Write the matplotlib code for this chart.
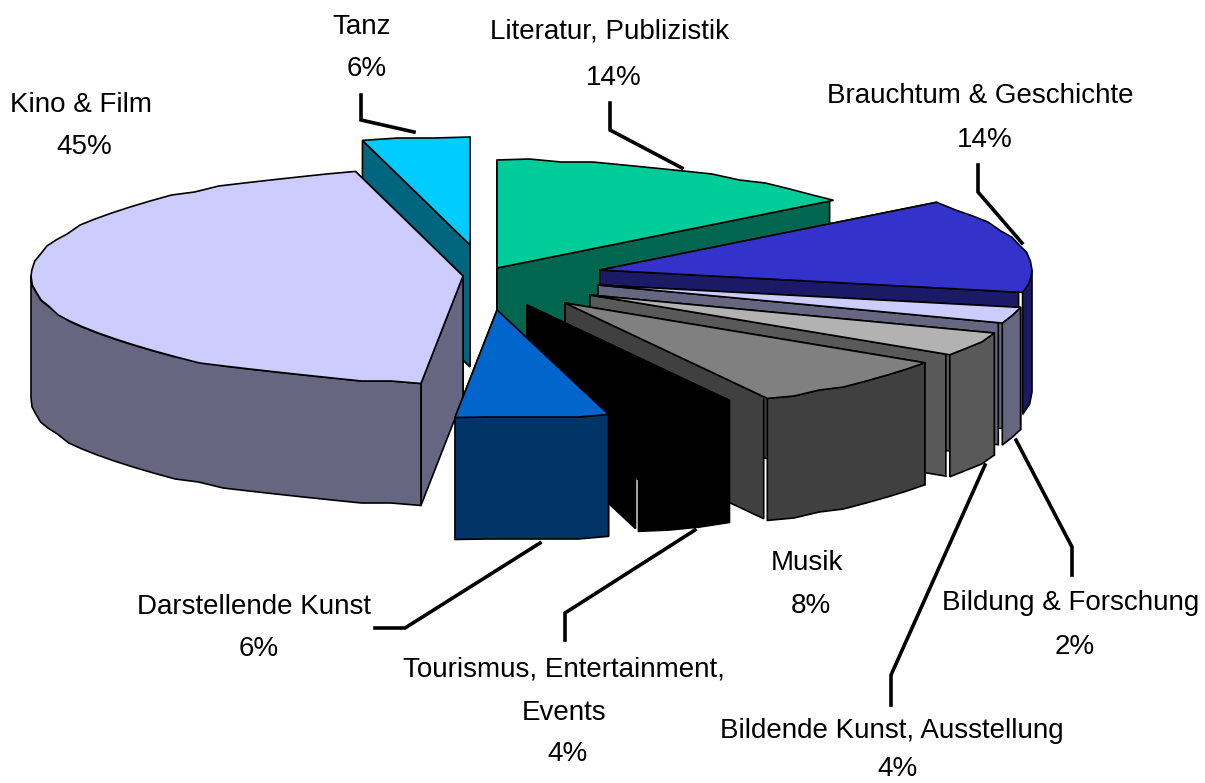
import numpy as np
import matplotlib
matplotlib.use('Agg')
import matplotlib.pyplot as plt
from matplotlib.patches import Polygon

plt.rcParams['font.family'] = ['Liberation Sans', 'DejaVu Sans']

# clockwise from 12 o'clock
names = ['Literatur, Publizistik', 'Brauchtum & Geschichte', 'Bildung & Forschung',
         'Bildende Kunst, Ausstellung', 'Musik', 'Tourismus, Entertainment,\nEvents',
         'Darstellende Kunst', 'Kino & Film', 'Tanz']
percent_labels = ['14%', '14%', '2%', '4%', '8%', '4%', '6%', '45%', '6%']
# size of each slice as drawn
shares = [14.2, 14.1, 2.4, 3.6, 7.9, 3.6, 5.7, 44.4, 4.0]

top_colors = ['#00CC99', '#3333CC', '#CCCCFF', '#B2B2B2', '#808080',
              '#000000', '#0066CC', '#CCCCFF', '#00CCFF']
wall_colors = ['#006650', '#1A1A66', '#666680', '#595959', '#404040',
               '#000000', '#003366', '#666680', '#006680']

# pie geometry, in pixels
cx, cy = 480, 278
rx, ry = 432, 108
thick = 122
pull_x = [17, 120, 118, 110, 85, 47, 17, -17, -10]
pull_y = [-10, -8, 7, 17, 25, 27, 32, -2, -33]
draw_order = [8, 0, 1, 2, 3, 4, 5, 7, 6]

# label centre: name then percent
name_pos = [(610, 32), (980, 96), (1071, 603), (892, 731), (807, 563),
            (564, 691), (254, 607), (81, 105), (362, 27)]
pct_pos = [(614, 78), (985, 140), (1075, 647), (897, 769), (811, 606),
           (568, 754), (259, 649), (84, 147), (367, 69)]
leaders = [[(610, 103), (610, 130), (682, 168)],
           [(978, 165), (978, 192), (1022, 243)],
           [(1072, 575), (1072, 547), (1016, 440)],
           [(891, 705), (891, 675), (985, 465)],
           [(565, 640), (565, 613), (695, 530)],
           [(375, 628), (405, 628), (540, 543)],
           [(361, 95), (361, 120), (414, 132)]]


def rim(a0, a1, ox, oy):
    # coarse polyline with stepped y, the original has that jagged look
    n = max(2, int(abs(a1 - a0) / 4) + 1)
    t = np.radians(np.linspace(a0, a1, n))
    x = ox + rx * np.sin(t)
    y = oy - ry * np.cos(t)
    y[1:-1] = np.round(y[1:-1] / 3.0) * 3.0
    return np.column_stack([x, y])


def add_poly(ax, pts, color):
    ax.add_patch(Polygon(pts, closed=True, facecolor=color, edgecolor='black',
                         linewidth=1.2, joinstyle='miter'))


fig = plt.figure(figsize=(12.05, 7.83), dpi=100)
ax = fig.add_axes([0, 0, 1, 1])
ax.set_xlim(0, 1205)
ax.set_ylim(783, 0)
ax.axis('off')

for pts in leaders:
    p = np.array(pts)
    ax.plot(p[:, 0], p[:, 1], color='black', lw=2.6, solid_joinstyle='miter')

edges = np.cumsum([0] + shares) / np.sum(shares) * 360.0

for i in draw_order:
    a0, a1 = edges[i], edges[i + 1]
    ox, oy = cx + pull_x[i], cy + pull_y[i]
    apex = np.array([ox, oy])
    drop = np.array([0, thick])
    top_rim = rim(a0, a1, ox, oy)

    start_end = top_rim[0]
    stop_end = top_rim[-1].copy()
    mid = (a0 + a1) / 2
    if mid < 180:
        # the near side wall stops a little short of the rim, leaves a slit
        d = stop_end - apex
        stop_end = stop_end - d / np.linalg.norm(d) * 4
        walls = [start_end, stop_end]
    else:
        walls = [stop_end, start_end]
    for w in walls:
        add_poly(ax, [apex, w, w + drop, apex + drop], wall_colors[i])

    # outer wall, only the part turned to the viewer
    f0, f1 = max(a0, 90), min(a1, 270)
    if f1 > f0:
        front = rim(f0, f1, ox, oy)
        add_poly(ax, np.vstack([front, (front + drop)[::-1]]), wall_colors[i])

    add_poly(ax, np.vstack([apex, top_rim]), top_colors[i])

for i in range(len(names)):
    ax.text(name_pos[i][0], name_pos[i][1], names[i], fontsize=20, ha='center',
            va='center', linespacing=1.88, color='black')
    ax.text(pct_pos[i][0], pct_pos[i][1], percent_labels[i], fontsize=20,
            ha='center', va='center', color='black')

fig.savefig('out.png', dpi=100)
